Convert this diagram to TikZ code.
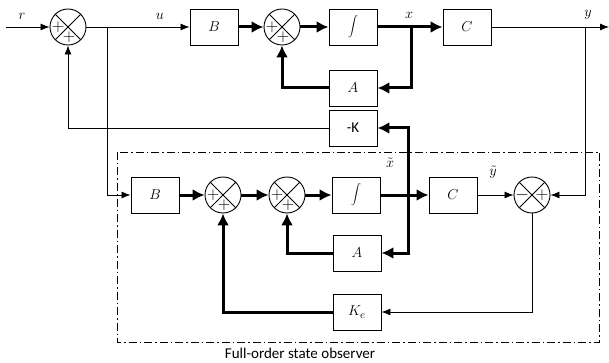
\documentclass[tikz,border=0pt]{standalone}
\usepackage{fontspec}
\newfontfamily\capfont{Carlito}
\usetikzlibrary{arrows.meta,calc}
\tikzset{
  blk/.style={draw,line width=0.9pt,minimum width=48pt,minimum height=36pt,
    inner sep=0pt,font=\fontsize{15}{17}\selectfont},
  sumnode/.style={draw,circle,line width=0.9pt,minimum size=36pt,inner sep=0pt,
    path picture={\draw[line width=0.9pt]
      (path picture bounding box.north west) -- (path picture bounding box.south east)
      (path picture bounding box.north east) -- (path picture bounding box.south west);}},
  sig/.style={-{Latex[length=9pt,width=7pt]},line width=0.8pt},
  vec/.style={-{Latex[length=12pt,width=12pt]},line width=3pt},
  lbl/.style={font=\fontsize{15}{17}\selectfont},
  sgn/.style={font=\fontsize{19}{21}\selectfont,inner sep=0pt},
}
\newcommand{\sumsigns}[3]{%
  \node[sgn] (#1l) at ($(#1)+(-10,0)$) {$#2$};
  \node[sgn] (#1r) at ($(#1)+(#3)$) {$+$};
}

\begin{document}
\begin{tikzpicture}[x=1pt,y=-1pt,line cap=butt,line join=miter]
\useasboundingbox (0,0) rectangle (609,363);
\fill[white] (0,0) rectangle (609,363);

% plant and state feedback
\node[sumnode] (s1) at (68,27) {};
\sumsigns{s1}{+}{1,10}
\node[blk] (B1) at (214,27) {$B$};
\node[sumnode] (s2) at (282,27) {};
\sumsigns{s2}{+}{1,10}
\node[blk] (I1) at (353,27) {$\displaystyle\int$};
\node[blk] (C1) at (467,27) {$C$};
\node[blk] (A1) at (353,88) {$A$};
\node[blk] (K) at (353,128) {\capfont -K};

\coordinate (rin) at (6,27);
\coordinate (yout) at (609,27);
\coordinate (ub) at (107,27);
\coordinate (xb) at (411,27);
\coordinate (yb) at (585,27);

\draw[sig] (rin) -- (s1);
\draw[sig] (s1) -- (B1);
\draw[vec] (B1) -- (s2);
\draw[vec] (s2) -- (I1);
\draw[vec] (I1) -- (C1);
\draw[vec] (xb) |- (A1);
\draw[vec] (A1) -| (s2);
\draw[sig] (C1) -- (yout);
\draw[sig] (K) -| (s1);

\node[lbl] (rl) at (22,16) {$r$};
\node[lbl] (ul) at (160,16) {$u$};
\node[lbl] (xl) at (409,15) {$x$};
\node[lbl] (yl) at (588,15) {$y$};

% observer
\node[blk] (B2) at (155,195) {$B$};
\node[sumnode] (s3) at (223,195) {};
\sumsigns{s3}{+}{1,10}
\node[sumnode] (s4) at (287,195) {};
\sumsigns{s4}{+}{1,10}
\node[blk] (I2) at (356,195) {$\displaystyle\int$};
\node[blk] (A2) at (357,253) {$A$};
\node[blk] (C2) at (453,195) {$C$};
\node[sumnode] (s5) at (532,195) {};
\sumsigns{s5}{-}{10,0}
\node[blk] (Ke) at (357,312) {$K_e$};

\coordinate (xtb) at (408,195);

\draw[sig] (ub) |- (B2);
\draw[vec] (B2) -- (s3);
\draw[vec] (s3) -- (s4);
\draw[vec] (s4) -- (I2);
\draw[vec] (I2) -- (C2);
\draw[vec] (xtb) |- (K);
\draw[vec] (xtb) |- (A2);
\draw[vec] (A2) -| (s4);
\draw[sig] (C2) -- (s5);
\draw[sig] (yb) |- (s5);
\draw[sig] (s5) |- (Ke);
\draw[vec] (Ke) -| (s3);

\node[lbl] (xtl) at (390,163) {$\tilde{x}$};
\node[lbl] (ytl) at (493,172) {$\tilde{y}$};

\draw[line width=0.8pt,dash pattern=on 8pt off 3pt on 1.5pt off 3pt]
  (117,152) rectangle (599,342);
\node[font=\capfont\fontsize{15}{17}\selectfont] (obs) at (300,353)
  {Full-order state observer};

\end{tikzpicture}
\end{document}
